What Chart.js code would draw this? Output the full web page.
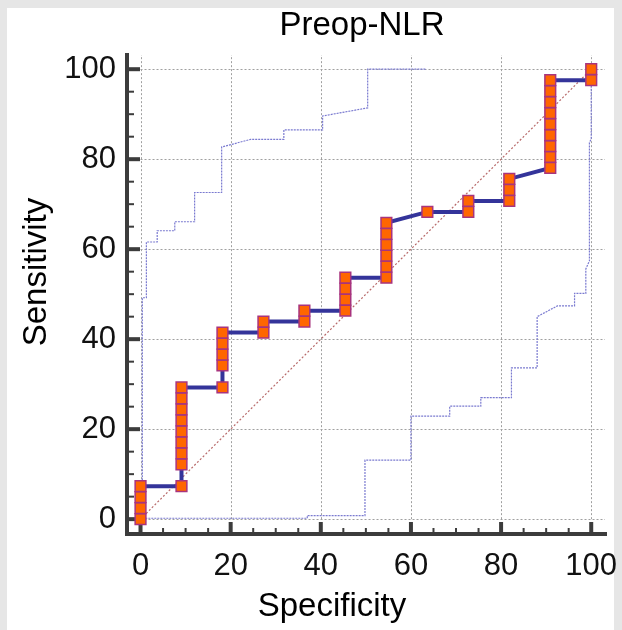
<!DOCTYPE html>
<html>
<head>
<meta charset="utf-8">
<script src="https://cdn.jsdelivr.net/npm/chart.js@4"></script>
<style>
  body { margin: 0; background: #e6e6e6; }
  #wrap { width: 622px; height: 630px; }
</style>
</head>
<body>
<div id="wrap"><canvas id="roc" width="622" height="630"></canvas></div>
<script>
// ROC curve points (100 - specificity on x, sensitivity on y)
var specificity = [0, 0, 0, 0,
  9.09, 9.09, 9.09, 9.09, 9.09, 9.09, 9.09, 9.09, 9.09,
  18.18, 18.18, 18.18, 18.18, 18.18,
  27.27, 27.27,
  36.36, 36.36,
  45.45, 45.45, 45.45, 45.45,
  54.55, 54.55, 54.55, 54.55, 54.55, 54.55,
  63.64,
  72.73, 72.73,
  81.82, 81.82, 81.82,
  90.91, 90.91, 90.91, 90.91, 90.91, 90.91, 90.91, 90.91, 90.91,
  100, 100];
var sensitivity = [0, 2.44, 4.88, 7.32,
  7.32, 12.2, 14.63, 17.07, 19.51, 21.95, 24.39, 26.83, 29.27,
  29.27, 34.15, 36.59, 39.02, 41.46,
  41.46, 43.9,
  43.9, 46.34,
  46.34, 48.78, 51.22, 53.66,
  53.66, 56.1, 58.54, 60.98, 63.41, 65.85,
  68.29,
  68.29, 70.73,
  70.73, 73.17, 75.61,
  78.05, 80.49, 82.93, 85.37, 87.8, 90.24, 92.68, 95.12, 97.56,
  97.56, 100];

// 95% confidence bounds
var upperX = [0.4, 0.4, 1.3, 1.3, 3.7, 3.7, 7.6, 7.6, 12, 12, 18, 18, 24.4, 31.8, 31.8, 40.4, 40.4, 50.4, 50.4, 63.4];
var upperY = [0, 49.2, 49.2, 61.6, 61.6, 64.1, 64.1, 66.1, 66.1, 72.6, 72.6, 82.7, 84.4, 84.4, 86.5, 86.5, 89.6, 91.4, 100, 100];
var lowerX = [0.4, 37, 37, 49.8, 49.8, 60, 60, 68.6, 68.6, 75.5, 75.5, 82.3, 82.3, 88, 88, 92.5, 96.3, 96.3, 98.8, 98.8, 99.6, 99.6, 100, 100];
var lowerY = [0.2, 0.2, 0.8, 0.8, 13.1, 13.1, 22.9, 22.9, 25.1, 25.1, 27, 27, 33.6, 33.6, 45, 47.4, 47.4, 50.2, 50.2, 55.6, 57.4, 83.7, 84.5, 99];

// diagonal reference line
var diagX = [0, 100];
var diagY = [0, 100];

var tickValues = [0, 20, 40, 60, 80, 100];

function toPoints(xs, ys) {
  return xs.map(function(x, i) { return {x: x, y: ys[i]}; });
}

var fontFamily = '"Liberation Sans", Arial, sans-serif';

// background panel, grid, axes and titles
var frame = {
  id: 'frame',
  beforeDraw: function(chart) {
    var ctx = chart.ctx;
    ctx.save();
    ctx.fillStyle = '#e6e6e6';
    ctx.fillRect(0, 0, chart.width, chart.height);
    ctx.fillStyle = '#ffffff';
    ctx.fillRect(7, 8, 607, 622);
    ctx.restore();
  },
  beforeDatasetsDraw: function(chart) {
    var ctx = chart.ctx, xs = chart.scales.x, ys = chart.scales.y, a = chart.chartArea;
    ctx.save();
    ctx.strokeStyle = '#a0a0a0';
    ctx.lineWidth = 1;
    ctx.setLineDash([2, 2]);
    tickValues.forEach(function(v) {
      var px = Math.round(xs.getPixelForValue(v)) + 0.5;
      ctx.beginPath();
      ctx.moveTo(px, ys.getPixelForValue(0));
      ctx.lineTo(px, a.top + 2);
      ctx.stroke();
      var py = Math.round(ys.getPixelForValue(v)) + 0.5;
      ctx.beginPath();
      ctx.moveTo(xs.getPixelForValue(0), py);
      ctx.lineTo(a.right - 2, py);
      ctx.stroke();
    });
    ctx.setLineDash([]);

    // axis lines
    ctx.strokeStyle = '#3c3c3c';
    ctx.lineWidth = 4;
    ctx.beginPath();
    ctx.moveTo(a.left, a.top);
    ctx.lineTo(a.left, a.bottom);
    ctx.lineTo(a.right, a.bottom);
    ctx.stroke();

    // ticks (inside), major every 20, minor every 5
    for (var v = 0; v <= 100; v += 5) {
      var major = v % 20 === 0;
      ctx.lineWidth = major ? 4 : 2;
      var len = major ? 13 : 7;
      var px = xs.getPixelForValue(v);
      ctx.beginPath();
      ctx.moveTo(px, a.bottom);
      ctx.lineTo(px, a.bottom - (major ? 12 : 6));
      ctx.stroke();
      var py = ys.getPixelForValue(v);
      ctx.beginPath();
      ctx.moveTo(a.left, py);
      ctx.lineTo(a.left + len, py);
      ctx.stroke();
    }
    ctx.restore();
  },
  afterDraw: function(chart) {
    var ctx = chart.ctx;
    ctx.save();
    ctx.fillStyle = '#000';
    ctx.font = '33px ' + fontFamily;
    ctx.textAlign = 'center';
    ctx.textBaseline = 'middle';
    ctx.fillText('Preop-NLR', 362, 26);
    ctx.fillText('Specificity', 332, 607);
    ctx.translate(37, 272);
    ctx.rotate(-Math.PI / 2);
    ctx.fillText('Sensitivity', 0, 0);
    ctx.restore();
  }
};

function noEdgePadding(s) {
  s.paddingLeft = 0;
  s.paddingRight = 0;
  s.paddingTop = 0;
  s.paddingBottom = 0;
}

var ctx = document.getElementById('roc').getContext('2d');
var rocChart = new Chart(ctx, {
  type: 'line',
  data: {
    datasets: [{
      data: toPoints(specificity, sensitivity),
      borderColor: '#34349a',
      borderWidth: 4,
      pointStyle: 'rect',
      pointRadius: 7.6,
      pointBackgroundColor: '#ff6600',
      pointBorderColor: '#a8347e',
      pointBorderWidth: 1.5,
      order: 0
    }, {
      data: toPoints(diagX, diagY),
      borderColor: '#b86a6a',
      borderWidth: 1.2,
      borderDash: [2, 2],
      pointRadius: 0,
      order: 1
    }, {
      data: toPoints(upperX, upperY),
      borderColor: '#7a7ad0',
      borderWidth: 1.2,
      borderDash: [2, 1],
      pointRadius: 0,
      order: 2
    }, {
      data: toPoints(lowerX, lowerY),
      borderColor: '#7a7ad0',
      borderWidth: 1.2,
      borderDash: [2, 1],
      pointRadius: 0,
      order: 2
    }]
  },
  options: {
    responsive: false,
    animation: false,
    layout: { padding: { top: 53, right: 15, bottom: 0, left: 0 } },
    plugins: { legend: { display: false }, tooltip: { enabled: false } },
    scales: {
      x: {
        type: 'linear',
        min: -3,
        max: 103.5,
        grid: { display: false, drawTicks: false },
        border: { display: false },
        afterBuildTicks: function(s) { s.ticks = tickValues.map(function(v) { return {value: v}; }); },
        afterFit: function(s) { s.height = 96; noEdgePadding(s); },
        ticks: { padding: 14, color: '#111', font: { family: fontFamily, size: 31 } }
      },
      y: {
        type: 'linear',
        min: -3.3,
        max: 103.6,
        grid: { display: false, drawTicks: false },
        border: { display: false },
        afterBuildTicks: function(s) { s.ticks = tickValues.map(function(v) { return {value: v}; }); },
        afterFit: function(s) { s.width = 127; noEdgePadding(s); },
        ticks: { padding: 11, color: '#111', font: { family: fontFamily, size: 31 } }
      }
    }
  },
  plugins: [frame]
});
</script>
</body>
</html>
